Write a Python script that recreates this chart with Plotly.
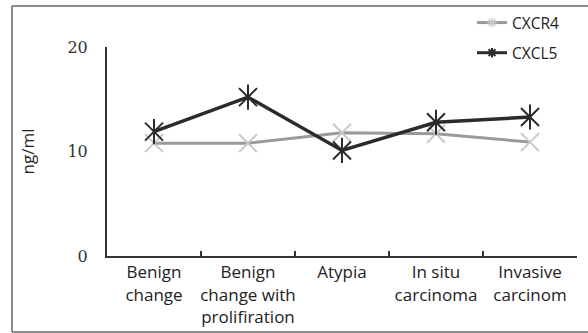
import plotly.graph_objects as go

categories = ["Benign<br>change", "Benign<br>change with<br>prolifiration", "Atypia",
              "In situ<br>carcinoma", "Invasive<br>carcinom"]
cxcr4 = [10.8, 10.8, 11.8, 11.7, 10.9]
cxcl5 = [11.9, 15.2, 10.1, 12.8, 13.3]
y_ticks = [0, 10, 20]

W, H = 588, 333
L, R, T, B = 107, 11, 47, 77
pw, ph = W - L - R, H - T - B

def px(x):
    return (x - L) / pw

def py(y):
    return (H - B - y) / ph

C4_LINE, C4_MK = "#9a9a9a", "#c8c8c8"
C5 = "#2b2b2b"

fig = go.Figure()
fig.add_trace(go.Scatter(
    x=categories, y=cxcr4, mode="lines+markers", showlegend=False,
    line=dict(color=C4_LINE, width=3),
    marker=dict(symbol="x-thin-open", size=18, color=C4_MK,
                line=dict(color=C4_MK, width=2)),
))
fig.add_trace(go.Scatter(
    x=categories, y=cxcl5, mode="lines+markers", showlegend=False,
    line=dict(color=C5, width=3.5),
    marker=dict(symbol="x-thin-open", size=18, color=C5,
                line=dict(color=C5, width=2)),
))
fig.add_trace(go.Scatter(
    x=categories, y=cxcl5, mode="markers", showlegend=False,
    marker=dict(symbol="line-ns-open", size=18, color=C5,
                line=dict(color=C5, width=2)),
    hoverinfo="skip",
))
# legend entries with small markers
fig.add_trace(go.Scatter(
    x=[None], y=[None], name="CXCR4", mode="lines+markers",
    line=dict(color=C4_LINE, width=3),
    marker=dict(symbol="asterisk-open", size=8, color=C4_MK,
                line=dict(color=C4_MK, width=1.5)),
    legendgroup="a",
))
fig.add_trace(go.Scatter(
    x=[None], y=[None], name="CXCL5", mode="lines+markers",
    line=dict(color=C5, width=3),
    marker=dict(symbol="asterisk-open", size=8, color=C5,
                line=dict(color=C5, width=2)),
    legendgroup="b",
))

fig.update_layout(
    width=W, height=H,
    margin=dict(l=L, r=R, t=T, b=B, autoexpand=False),
    paper_bgcolor="white", plot_bgcolor="white",
    showlegend=True,
    legend=dict(x=px(472), y=py(6), xanchor="left", yanchor="top",
                font=dict(family="Open Sans, sans-serif", size=15.5, color="#222"),
                bgcolor="rgba(0,0,0,0)", tracegroupgap=7, itemwidth=30),
    xaxis=dict(
        type="category", showline=True, linecolor="#333", linewidth=2,
        ticks="inside", ticklen=5, tickwidth=1.5, tickcolor="#333",
        tickson="boundaries", showgrid=False, zeroline=False,
        tickangle=0, automargin=False,
        tickfont=dict(family="Open Sans, sans-serif", size=17, color="#222"),
        range=[-0.5, 4.5],
    ),
    yaxis=dict(
        range=[0, 20], tickvals=y_ticks, showline=True, linecolor="#333",
        linewidth=2, ticks="", showgrid=False, zeroline=False,
        ticklabelstandoff=14, automargin=False,
        tickfont=dict(family="DejaVu Serif, serif", size=16, color="#333"),
        title=dict(text="ng/ml", standoff=28,
                   font=dict(family="Open Sans, sans-serif", size=17, color="#222")),
    ),
    shapes=[
        dict(type="line", xref="paper", yref="paper", x0=px(12), x1=px(12),
             y0=py(6), y1=py(332), line=dict(color="#666", width=1.5)),
        dict(type="line", xref="paper", yref="paper", x0=px(12), x1=px(590),
             y0=py(6), y1=py(6), line=dict(color="#666", width=1.5)),
        dict(type="line", xref="paper", yref="paper", x0=px(12), x1=px(590),
             y0=py(332), y1=py(332), line=dict(color="#666", width=1.5)),
    ],
)

fig.write_html("out.html")
